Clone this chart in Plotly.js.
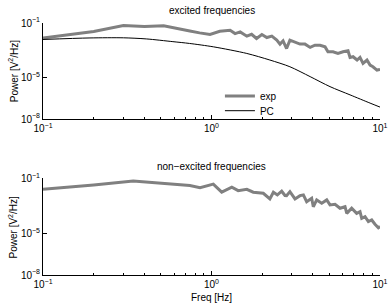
<!DOCTYPE html>
<html><head><meta charset="utf-8">
<script src="https://cdn.plot.ly/plotly-3.0.1.min.js"></script>
<style>html,body{margin:0;padding:0;background:#fff;}#chart{width:390px;height:306px;}</style>
</head><body><div id="chart"></div>
<script>
// Excited frequencies panel: measured spectrum (exp), log10 of power
const excitedFreq = [0.1, 0.2, 0.3, 0.4, 0.52, 0.65, 0.744, 0.85, 0.98, 1.12, 1.29, 1.38, 1.48, 1.62, 1.73, 1.85, 1.99, 2.13, 2.28, 2.44, 2.55, 2.66, 2.79, 2.92, 3.13, 3.35, 3.59, 3.85, 4.11, 4.41, 4.72, 4.91, 5.26, 5.63, 6.03, 6.46, 6.64, 6.92, 7.31, 7.61, 7.93, 8.37, 8.73, 9.08, 9.59, 10];
const excitedExpLog10 = [-2.1, -1.62, -1.18, -1.26, -1.2, -1.41, -1.58, -1.72, -1.84, -1.6, -1.53, -1.77, -1.65, -1.96, -1.82, -2.13, -1.84, -2.06, -1.96, -2.25, -2.54, -2.3, -2.86, -2.25, -2.38, -2.54, -2.54, -2.78, -2.62, -2.62, -2.74, -3.1, -3.1, -3.22, -3.1, -3.03, -3.51, -3.46, -3.7, -3.51, -3.94, -3.7, -4.07, -4.19, -4.43, -4.38];
// Model (PC) curve, log10 of power
const pcFreq = [0.1, 0.19, 0.3, 0.41, 0.59, 0.74, 1.03, 1.62, 2.22, 2.92, 3.85, 5.05, 6.64, 8.73, 10];
const pcLog10 = [-2.2, -2.09, -2.08, -2.16, -2.36, -2.49, -2.74, -3.22, -3.7, -4.19, -4.91, -5.64, -6.24, -6.84, -7.13];
// Non-excited frequencies panel: measured spectrum, log10 of power
const nonExcFreq = [0.1, 0.138, 0.2, 0.343, 0.5, 0.65, 0.744, 0.855, 1.025, 1.15, 1.32, 1.44, 1.62, 1.77, 2.03, 2.22, 2.33, 2.46, 2.61, 2.73, 2.79, 2.92, 3.13, 3.35, 3.51, 3.67, 3.93, 4.02, 4.21, 4.51, 4.83, 5.05, 5.41, 5.79, 6.2, 6.35, 6.79, 7.27, 7.61, 7.79, 8.15, 8.53, 8.93, 9.34, 9.78, 10];
const nonExcExpLog10 = [-1.8, -1.68, -1.49, -1.2, -1.33, -1.43, -1.52, -1.68, -1.43, -2.01, -1.65, -1.9, -1.8, -2.01, -2.09, -2.5, -2.01, -2.21, -1.94, -2.25, -2.26, -1.97, -2.5, -2.26, -2.21, -2.7, -2.45, -3.06, -2.57, -2.81, -2.57, -2.93, -2.88, -3.17, -3.06, -3.54, -3.17, -3.54, -3.42, -3.9, -3.78, -4.14, -4.02, -4.33, -4.58, -4.5];

const xTickVals = [0.1, 1, 10];
const xTickText = ['10<sup>−1</sup>', '10<sup>0</sup>', '10<sup>1</sup>'];
const xMinorVals = [0.2, 0.3, 0.4, 0.5, 0.6, 0.7, 0.8, 0.9, 2, 3, 4, 5, 6, 7, 8, 9];
const yTickVals = [1e-8, 1e-5, 1e-1];
const yTickText = ['10<sup>−8</sup>', '10<sup>−5</sup>', '10<sup>−1</sup>'];
const panelTitles = ['excited frequencies', 'non−excited frequencies'];
const yTitle = 'Power [V<sup>2</sup>/Hz]';
const xTitle = 'Freq [Hz]';

const toPow = a => a.map(v => Math.pow(10, v));
const FONT = 'Liberation Sans, Arial, Helvetica, sans-serif';

const traces = [
  {x: excitedFreq, y: toPow(excitedExpLog10), xaxis: 'x', yaxis: 'y', name: 'exp', mode: 'lines',
   line: {color: '#808080', width: 3}, legend: 'legend'},
  {x: pcFreq, y: toPow(pcLog10), xaxis: 'x', yaxis: 'y', name: 'PC', mode: 'lines',
   line: {color: '#000000', width: 1, shape: 'spline', smoothing: 0.8}, legend: 'legend2'},
  {x: nonExcFreq, y: toPow(nonExcExpLog10), xaxis: 'x2', yaxis: 'y2', name: 'exp', mode: 'lines',
   line: {color: '#808080', width: 3}, showlegend: false}
];

function xa(anchor, title) {
  return {type: 'log', range: [-1, 1], anchor: anchor, domain: [0, 1],
    showline: true, linecolor: '#000', linewidth: 1, showgrid: false, zeroline: false,
    tickvals: xTickVals, ticktext: xTickText, ticks: 'inside', ticklen: 4, tickcolor: '#000',
    minor: {tickvals: xMinorVals, ticks: 'inside', ticklen: 2, tickcolor: '#000', showgrid: false},
    tickfont: {family: FONT, size: 10, color: '#000'},
    title: title ? {text: title, font: {family: FONT, size: 10, color: '#000'}, standoff: 4} : undefined};
}
function ya(anchor, domain) {
  return {type: 'log', range: [-8, -1], anchor: anchor, domain: domain,
    showline: true, linecolor: '#000', linewidth: 1, showgrid: false, zeroline: false,
    tickvals: yTickVals, ticktext: yTickText, ticks: 'inside', ticklen: 4, tickcolor: '#000',
    tickfont: {family: FONT, size: 10, color: '#000'}};
}

const layout = {
  width: 390, height: 306,
  margin: {l: 43, r: 10, t: 23, b: 31},
  paper_bgcolor: '#fff', plot_bgcolor: '#fff',
  font: {family: FONT, size: 10, color: '#000'},
  xaxis: xa('y', null),
  yaxis: ya('x', [0.619, 1]),
  xaxis2: xa('y2', xTitle),
  yaxis2: ya('x2', [0, 0.384]),
  legend: {x: 0.525, y: 0.71, xanchor: 'left', yanchor: 'middle', bgcolor: 'rgba(0,0,0,0)',
           font: {family: FONT, size: 10, color: '#000'}},
  legend2: {x: 0.525, y: 0.652, xanchor: 'left', yanchor: 'middle', bgcolor: 'rgba(0,0,0,0)',
           font: {family: FONT, size: 10, color: '#000'}},
  annotations: [
    {text: panelTitles[0], xref: 'paper', yref: 'paper', x: 0.5, y: 1, yshift: 13, showarrow: false,
     xanchor: 'center', yanchor: 'middle', font: {family: FONT, size: 10, color: '#000'}},
    {text: panelTitles[1], xref: 'paper', yref: 'paper', x: 0.5, y: 0.384, yshift: 12, showarrow: false,
     xanchor: 'center', yanchor: 'middle', font: {family: FONT, size: 10, color: '#000'}},
    {text: yTitle, xref: 'paper', yref: 'paper', x: -0.088, y: 0.81, textangle: -90, showarrow: false,
     xanchor: 'center', yanchor: 'middle', font: {family: FONT, size: 10, color: '#000'}},
    {text: yTitle, xref: 'paper', yref: 'paper', x: -0.088, y: 0.19, textangle: -90, showarrow: false,
     xanchor: 'center', yanchor: 'middle', font: {family: FONT, size: 10, color: '#000'}}
  ]
};

Plotly.newPlot('chart', traces, layout, {staticPlot: true, displayModeBar: false});
</script>
</body></html>
